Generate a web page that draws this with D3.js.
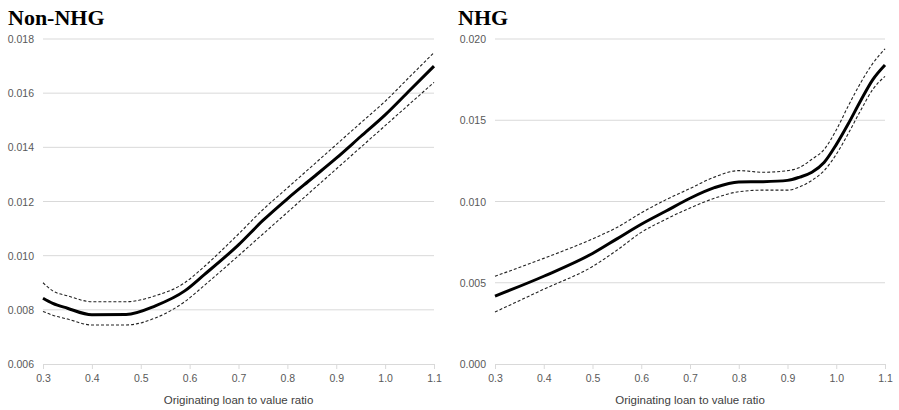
<!DOCTYPE html>
<html><head><meta charset="utf-8">
<script src="https://cdn.jsdelivr.net/npm/d3@7"></script>
<style>body{margin:0;background:#fff}svg{display:block}</style>
</head><body>
<svg id="c" width="899" height="410"></svg>
<script>
// ---- data ----
const xTicks = [0.3,0.4,0.5,0.6,0.7,0.8,0.9,1.0,1.1];
const xTickLabels = ["0.3","0.4","0.5","0.6","0.7","0.8","0.9","1.0","1.1"];

const nonX     = [0.30,0.32,0.35,0.40,0.47,0.53,0.59,0.63,0.70,0.75,0.80,0.85,0.90,0.95,1.00,1.05,1.10];
const nonMean  = [0.00843,0.00824,0.00806,0.00782,0.00783,0.00815,0.0087,0.0093,0.0104,0.0113,0.0121,0.01285,0.0136,0.0144,0.0152,0.0161,0.0170];
const nonUpper = [0.0090,0.0087,0.00852,0.0083,0.0083,0.00852,0.0090,0.0096,0.0108,0.0117,0.0125,0.0133,0.0141,0.0149,0.0157,0.0166,0.0175];
const nonLower = [0.00794,0.0078,0.00766,0.00744,0.00744,0.0077,0.0083,0.0089,0.0100,0.0108,0.0116,0.0124,0.0132,0.0140,0.0148,0.0156,0.0164];
const nonYTicks = [0.006,0.008,0.010,0.012,0.014,0.016,0.018];

const nhgX     = [0.30,0.40,0.50,0.55,0.60,0.65,0.70,0.75,0.80,0.85,0.90,0.925,0.95,0.975,1.00,1.025,1.05,1.075,1.10];
const nhgMean  = [0.00418,0.0054,0.0068,0.0077,0.0086,0.0094,0.0102,0.01085,0.0112,0.01122,0.0113,0.0115,0.0118,0.0124,0.0135,0.0148,0.0162,0.0175,0.0184];
const nhgUpper = [0.0054,0.0065,0.0077,0.0084,0.0093,0.0101,0.0108,0.0115,0.0119,0.0118,0.0119,0.0121,0.0126,0.0132,0.0144,0.0159,0.0173,0.0185,0.0194];
const nhgLower = [0.0032,0.0046,0.0060,0.0070,0.0081,0.0089,0.0096,0.0102,0.0106,0.0107,0.0107,0.0109,0.0113,0.0119,0.0129,0.0142,0.0156,0.0169,0.0177];
const nhgYTicks = [0.000,0.005,0.010,0.015,0.020];

const svg = d3.select("#c");

function panel(opt){
  const x = d3.scaleLinear().domain([0.3,1.1]).range([opt.x0, opt.x1]);
  const y = d3.scaleLinear().domain(opt.yDomain).range([364, 39]);
  const g = svg.append("g");
  g.append("text").attr("x", opt.tx).attr("y", 25)
    .attr("font-family","'Liberation Serif','Times New Roman',serif")
    .attr("font-weight","bold").attr("font-size",22).attr("fill","#000")
    .text(opt.title);
  g.selectAll(".grid").data(opt.yTicks.slice(1)).enter().append("line")
    .attr("x1", opt.x0).attr("x2", opt.x1)
    .attr("y1", d=>y(d)).attr("y2", d=>y(d))
    .attr("stroke","#d9d9d9").attr("stroke-width",1);
  g.selectAll(".yl").data(opt.yTicks).enter().append("text")
    .attr("x", opt.x0-9).attr("y", d=>y(d)+4)
    .attr("text-anchor","end")
    .attr("font-family","'Liberation Sans',Arial,sans-serif").attr("font-size",10.5)
    .attr("fill","#595959")
    .text(d=>d3.format(".3f")(d));
  const xa = d3.axisBottom(x).tickValues(xTicks).tickFormat((d,i)=>xTickLabels[i]).tickSizeInner(5).tickSizeOuter(0).tickPadding(6);
  const ax = g.append("g").attr("transform","translate(0,364)").call(xa);
  ax.select(".domain").attr("stroke","#d9d9d9");
  ax.selectAll(".tick line").attr("stroke","#d9d9d9");
  ax.selectAll("text").attr("font-family","'Liberation Sans',Arial,sans-serif").attr("font-size",10.5).attr("fill","#595959");
  g.append("text").attr("x",(opt.x0+opt.x1)/2).attr("y",404).attr("text-anchor","middle")
    .attr("font-family","'Liberation Sans',Arial,sans-serif").attr("font-size",11.5).attr("fill","#404040")
    .text("Originating loan to value ratio");
  const line = d3.line().x(d=>x(d[0])).y(d=>y(d[1])).curve(d3.curveMonotoneX);
  const mk = (xs,vs)=>xs.map((v,i)=>[v,vs[i]]);
  g.append("path").attr("d", line(mk(opt.xs,opt.upper))).attr("fill","none").attr("stroke","#222").attr("stroke-width",1.1).attr("stroke-dasharray","3,2");
  g.append("path").attr("d", line(mk(opt.xs,opt.lower))).attr("fill","none").attr("stroke","#222").attr("stroke-width",1.1).attr("stroke-dasharray","3,2");
  g.append("path").attr("d", line(mk(opt.xs,opt.mean))).attr("fill","none").attr("stroke","#000").attr("stroke-width",3);
}

panel({title:"Non-NHG", tx:8, x0:43, x1:434, yDomain:[0.006,0.018], yTicks:nonYTicks,
  xs:nonX, mean:nonMean, upper:nonUpper, lower:nonLower});
panel({title:"NHG", tx:458, x0:495, x1:885, yDomain:[0,0.020], yTicks:nhgYTicks,
  xs:nhgX, mean:nhgMean, upper:nhgUpper, lower:nhgLower});
</script>
</body></html>
